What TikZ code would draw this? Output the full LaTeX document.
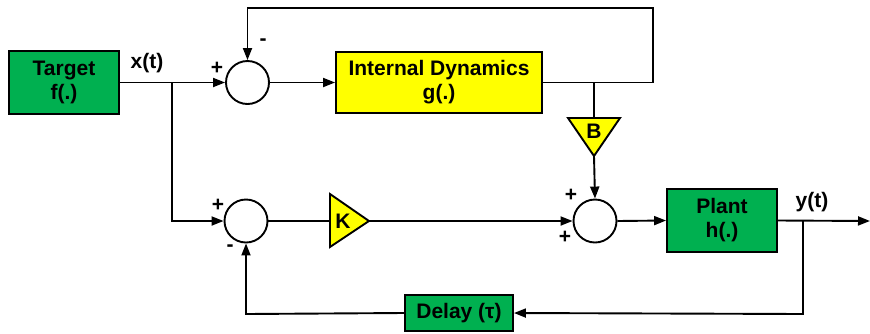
\documentclass[tikz,border=0pt]{standalone}
\usepackage{fontspec}
\setmainfont{Liberation Sans}
\usetikzlibrary{arrows.meta}
\definecolor{boxgreen}{RGB}{0,176,80}
\definecolor{boxyellow}{RGB}{255,255,0}
\tikzset{
  wire/.style={line width=1.9pt},
  arr/.style={wire,-{Triangle[length=12pt,width=9pt]}},
  blockbox/.style={draw,line width=1.9pt,inner sep=0pt,align=center,font=\fontsize{21}{24}\selectfont\bfseries},
  greenbox/.style={blockbox,fill=boxgreen},
  yellowbox/.style={blockbox,fill=boxyellow},
  summer/.style={draw,circle,line width=1.9pt,fill=white,minimum size=43pt,inner sep=0pt},
  gaintri/.style={draw,line width=1.9pt,fill=boxyellow,line join=miter},
  gainlabel/.style={inner sep=0pt,font=\fontsize{21}{24}\selectfont\bfseries},
  sig/.style={inner sep=0pt,font=\fontsize{21}{24}\selectfont\bfseries},
  sgn/.style={inner sep=0pt,font=\fontsize{21}{24}\selectfont\bfseries}
}
\begin{document}
\begin{tikzpicture}[x=1pt,y=-1pt]
\useasboundingbox (0,0) rectangle (870,333);
% blocks
\node[greenbox,minimum width=110pt,minimum height=63pt] (tgt) at (64,82.5) {Target\\f(.)};
\node[yellowbox,minimum width=206pt,minimum height=61pt] (g) at (439,82.5) {Internal Dynamics\\g(.)};
\node[greenbox,minimum width=110pt,minimum height=63pt] (plant) at (722,220.5) {Plant\\h(.)};
\node[greenbox,minimum width=108pt,minimum height=36pt] (delay) at (459,313) {Delay (\char"03C4)};
% summing junctions
\node[summer] (s1) at (247.5,82.5) {};
\node[summer] (s3) at (246,221) {};
\node[summer] (s2) at (595,221) {};
% gain triangles
\coordinate (Btop) at (594,118);
\coordinate (Btip) at (594,156);
\draw[gaintri] (568,118) -- (620,118) -- (Btip) -- cycle;
\node[gainlabel] (Blab) at (594,131) {B};
\coordinate (Kin) at (330,221);
\coordinate (Ktip) at (369,221);
\draw[gaintri] (330,194) -- (Ktip) -- (330,247) -- cycle;
\node[gainlabel] (Klab) at (343,221) {K};
% helper coordinates
\coordinate (j1) at (172,82.5);
\coordinate (j1b) at (172,221);
\coordinate (jB) at (594,82.5);
\coordinate (r1) at (653,82.5);
\coordinate (r2) at (653,8);
\coordinate (r3) at (247.5,8);
\coordinate (jy) at (803,221);
\coordinate (out) at (870,221);
\coordinate (d1) at (803,314);
\coordinate (d2) at (246,314);
% connectors
\draw[arr] (tgt.east) -- (s1.west);
\draw[arr] (j1) -- (j1b) -- (s3.west);
\draw[arr] (s1.east) -- (g.west);
\draw[arr] (g.east) -- (r1) -- (r2) -- (r3) -- (s1.north);
\draw[wire] (jB) -- (Btop);
\draw[arr] (Btip) -- (s2.north);
\draw[wire] (s3.east) -- (Kin);
\draw[arr] (Ktip) -- (s2.west);
\draw[arr] (s2.east) -- (plant.west);
\draw[arr] (plant.east) -- (out);
\draw[arr] (jy) -- (d1) -- (delay.east);
\draw[arr] (delay.west) -- (d2) -- (s3.south);
% signal labels
\node[sig] (xl) at (147,63) {x(t)};
\node[sig] (yl) at (812,202) {y(t)};
% signs
\node[sgn] (p1) at (217,68) {+};
\node[sgn] (m1) at (263,42) {-};
\node[sgn] (p3) at (218,205) {+};
\node[sgn] (m3) at (230,248) {-};
\node[sgn] (p2a) at (571,195) {+};
\node[sgn] (p2b) at (565,237) {+};
\end{tikzpicture}
\end{document}
